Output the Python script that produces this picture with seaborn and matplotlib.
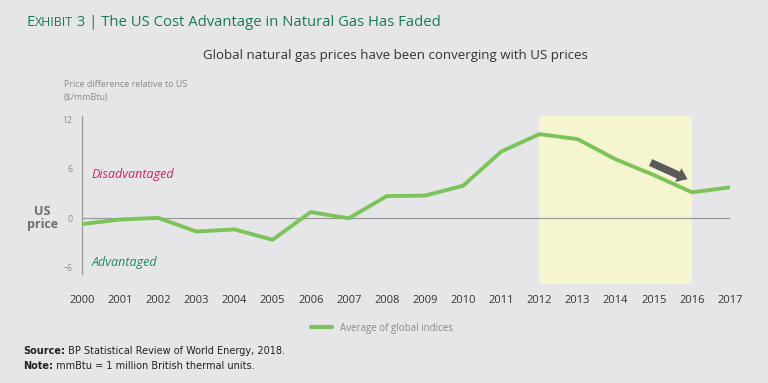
import numpy as np
import pandas as pd
import seaborn as sns
import matplotlib.pyplot as plt
from matplotlib.lines import Line2D

# values
years = list(range(2000, 2018))
price_diff = [-0.7, -0.15, 0.05, -1.6, -1.35, -2.6, 0.75, 0.0, 2.7, 2.75,
              3.95, 8.1, 10.2, 9.6, 7.15, 5.25, 3.15, 3.75]
yticks = [-6, 0, 6, 12]
highlight = (2012, 2016)

df = pd.DataFrame({'year': years, 'diff': price_diff})

sns.set_theme(style='white')
plt.rcParams['font.family'] = ['Open Sans', 'DejaVu Sans']

bg = '#e6e6e8'
green = '#7cc45a'
gray = '#6e6e6e'
title_green = '#197a56'

fig = plt.figure(figsize=(7.68, 3.83), dpi=100, facecolor=bg)
ax = fig.add_axes([82 / 768, 1 - 284.3 / 383, (730 - 82) / 768, (284.3 - 116) / 383])
ax.set_facecolor(bg)

ax.axvspan(highlight[0], highlight[1], color='#f5f5d0', zorder=0, lw=0)
ax.axhline(0, color='#9a9a9a', lw=0.9, zorder=1)
sns.lineplot(data=df, x='year', y='diff', color=green, lw=2.8, ax=ax, zorder=3,
             label='Average of global indices', legend=False)

ax.set_xlim(2000, 2017)
ax.set_ylim(-8, 12.4)
for s in ['top', 'right', 'bottom']:
    ax.spines[s].set_visible(False)
ax.spines['left'].set_color('#9a9a9a')
ax.spines['left'].set_linewidth(0.9)
ax.spines['left'].set_bounds(-6.8, 12.4)

ax.set_yticks(yticks)
ax.set_yticklabels(['\u22126', '0', '6', '12'], fontsize=6.3, color='#8a8a8a')
ax.set_xticks(years)
ax.set_xticklabels([str(y) for y in years], fontsize=8, color='#333333')
ax.tick_params(axis='y', length=0, pad=7)
ax.tick_params(axis='x', length=0, pad=8)
ax.set_xlabel('')
ax.set_ylabel('')

ax.annotate('', xy=(2015.95, 4.6), xytext=(2014.85, 6.9),
            arrowprops=dict(arrowstyle='simple,head_width=0.9,head_length=0.6,tail_width=0.45',
                            color='#5a5a5a', lw=0), zorder=4)

ax.text(2000.25, 5.3, 'Disadvantaged', style='italic', color='#d61f5a', fontsize=9,
        va='center', ha='left')
ax.text(2000.25, -5.3, 'Advantaged', style='italic', color='#1f8a5f', fontsize=9,
        va='center', ha='left')

fig.text(42 / 768, 1 - 218 / 383, 'US\nprice', ha='center', va='center', fontsize=9,
         fontweight='bold', color=gray, linespacing=1.0)
fig.text(64 / 768, 1 - 91 / 383, 'Price difference relative to US\n($/mmBtu)', ha='left',
         va='center', fontsize=6.5, color='#8a8a8a', linespacing=1.5)

fig.canvas.draw()
renderer = fig.canvas.get_renderer()


def text_run(x0, y, pieces, **kw):
    for txt, fs, weight in pieces:
        t = fig.text(x0, y, txt, fontsize=fs, fontweight=weight, ha='left', va='baseline', **kw)
        x0 += t.get_window_extent(renderer).width / fig.bbox.width


# title with small caps "Exhibit"
text_run(27 / 768, 1 - 25.5 / 383,
         [('E', 10.7, 'normal'), ('XHIBIT', 8.9, 'normal'),
          (' 3 | The US Cost Advantage in Natural Gas Has Faded', 10.7, 'normal')],
         color=title_green)

fig.text(395 / 768, 1 - 55 / 383, 'Global natural gas prices have been converging with US prices',
         ha='center', va='center', fontsize=9.5, color='#333333')

fig.legend(handles=[Line2D([0], [0], color=green, lw=3)], labels=['Average of global indices'],
           loc='center', bbox_to_anchor=(382 / 768, 1 - 328 / 383), frameon=False,
           fontsize=7, labelcolor='#8a8a8a', handlelength=2.2)

text_run(23 / 768, 1 - 354 / 383,
         [('Source:', 7, 'bold'), (' BP Statistical Review of World Energy, 2018.', 7, 'normal')],
         color='#222222', family=['Liberation Sans Narrow', 'DejaVu Sans'])
text_run(23 / 768, 1 - 369 / 383,
         [('Note:', 7, 'bold'), (' mmBtu = 1 million British thermal units.', 7, 'normal')],
         color='#222222', family=['Liberation Sans Narrow', 'DejaVu Sans'])

plt.savefig('out.png', dpi=100, facecolor=bg)
